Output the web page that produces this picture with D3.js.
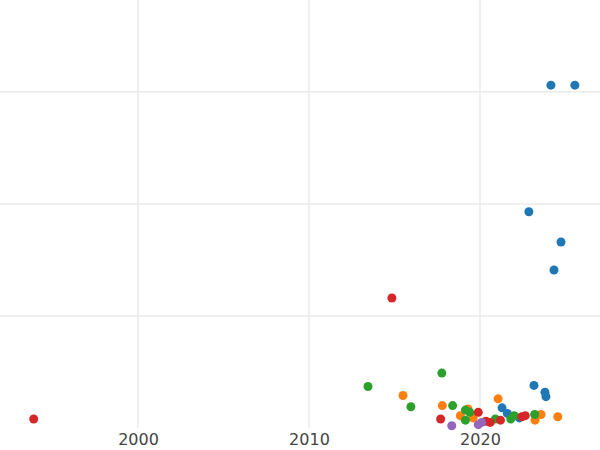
<!DOCTYPE html><html><head><script src="https://cdn.jsdelivr.net/npm/d3@7"></script>
<style>body{margin:0;background:#fff}</style></head><body><svg id="c" width="600" height="450"></svg><script>
const xTicks=[2000,2010,2020];
const yGrid=[1,2,3];
const blue=[[2024.15,3.06],[2025.55,3.06],[2022.86,1.93],[2024.74,1.66],[2024.33,1.41],[2023.16,0.38],[2023.8,0.32],[2023.86,0.28],[2021.29,0.18],[2021.6,0.13],[2022.3,0.09]];
const red=[[1993.9,0.08],[2014.85,1.16],[2017.7,0.08],[2019.9,0.14],[2020.35,0.06],[2020.6,0.05],[2021.2,0.07],[2022.45,0.1],[2022.65,0.11]];
const green=[[2013.45,0.37],[2017.77,0.49],[2015.96,0.19],[2018.4,0.2],[2019.15,0.16],[2019.15,0.07],[2019.4,0.14],[2020.9,0.08],[2021.8,0.08],[2023.2,0.12],[2022.0,0.11]];
const orange=[[2015.5,0.29],[2017.8,0.2],[2018.85,0.11],[2019.3,0.17],[2021.06,0.26],[2023.22,0.07],[2023.57,0.12],[2024.55,0.1],[2019.6,0.09]];
const purple=[[2018.35,0.02],[2019.9,0.03],[2020.1,0.05]];
const series=[[blue,"#1f77b4"],[orange,"#ff7f0e"],[green,"#2ca02c"],[red,"#d62728"],[purple,"#9467bd"]];
const svg=d3.select("#c");
const x=d3.scaleLinear().domain([1991.93,2027.02]).range([0,600]);
const y=d3.scaleLinear().domain([0,3.82]).range([428,0]);
const g=svg.append("g");
g.selectAll(".v").data(xTicks).join("line").attr("x1",d=>x(d)).attr("x2",d=>x(d)).attr("y1",0).attr("y2",428).attr("stroke","#ebebeb").attr("stroke-width",1.5);
g.selectAll(".h").data(yGrid).join("line").attr("x1",0).attr("x2",600).attr("y1",d=>y(d)).attr("y2",d=>y(d)).attr("stroke","#ebebeb").attr("stroke-width",1.5);
const pg=svg.append("g");
series.forEach(([d,c])=>pg.selectAll(null).data(d).join("circle").attr("cx",p=>x(p[0])).attr("cy",p=>y(p[1])).attr("r",4.5).attr("fill",c));
svg.append("g").attr("transform","translate(0,428)").call(d3.axisBottom(x).tickValues(xTicks).tickFormat(d3.format("d")).tickSize(0).tickPadding(6))
 .call(a=>a.select(".domain").remove()).selectAll("text").attr("font-family","DejaVu Sans").attr("font-size",16).attr("fill","#444");
</script></body></html>
